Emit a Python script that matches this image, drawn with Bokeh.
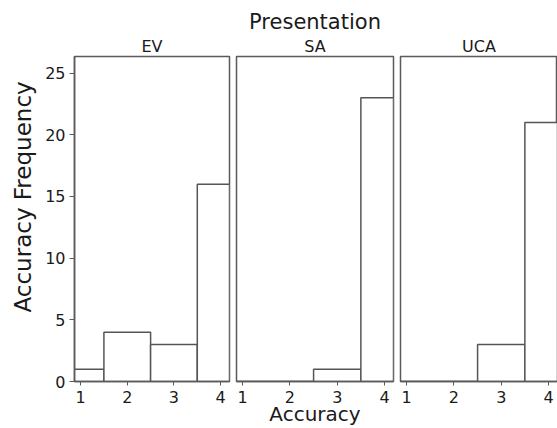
from bokeh.plotting import figure
from bokeh.layouts import row
from bokeh.models import Title, FixedTicker, Range1d, ColumnDataSource
from bokeh.embed import file_html
from bokeh.resources import INLINE

# ---- data ----
panels = ["EV", "SA", "UCA"]
accuracy = [1, 2, 3, 4]
ev_freq = [1, 4, 3, 16]
sa_freq = [0, 0, 1, 23]
uca_freq = [0, 0, 3, 21]
y_ticks = [0, 5, 10, 15, 20, 25]
x_ticks = [1, 2, 3, 4]
x_limits = (0.87, 4.19)
y_limits = (0, 26.35)

FONT = "DejaVu Sans"
TEXT = "#1a1a1a"
FRAME = "#5a5a5a"
BAR_LINE = "#555555"

series = [ev_freq, sa_freq, uca_freq]
widths = [231, 164, 162]
borders_left = [72, 5, 5]
borders_right = [2, 2, 0]


def style_title(t, size):
    t.text_font = FONT
    t.text_font_size = size
    t.text_font_style = "normal"
    t.text_color = TEXT
    t.align = "center"
    t.standoff = 2


figs = []
for i, (name, freq) in enumerate(zip(panels, series)):
    p = figure(
        width=widths[i], height=428,
        x_range=Range1d(*x_limits), y_range=Range1d(*y_limits),
        output_backend="svg", toolbar_location=None,
        y_axis_location="left" if i == 0 else None,
        min_border_left=borders_left[i], min_border_right=borders_right[i],
        min_border_top=56, min_border_bottom=47,
        title=("Presentation" if i == 1 else name),
    )
    src = ColumnDataSource(dict(x=accuracy, top=freq))
    p.vbar(x="x", top="top", width=1, bottom=0, source=src,
           fill_color="white", line_color=BAR_LINE, line_width=1.5)

    if i == 1:
        style_title(p.title, "21px")
        p.title.standoff = 0
        p.add_layout(Title(text=name), "above")
        style_title(p.above[-1], "16px")
    else:
        style_title(p.title, "16px")

    p.xgrid.visible = False
    p.ygrid.visible = False
    p.outline_line_color = FRAME
    p.outline_line_width = 1.5
    p.background_fill_color = "white"
    p.border_fill_color = "white"

    xa = p.xaxis[0]
    xa.ticker = FixedTicker(ticks=x_ticks)
    xa.major_tick_out = 4
    xa.major_tick_in = 0
    xa.minor_tick_line_color = None
    xa.axis_line_color = FRAME
    xa.axis_line_width = 1.5
    xa.major_tick_line_color = FRAME
    xa.major_label_text_font = FONT
    xa.major_label_text_font_size = "16px"
    xa.major_label_text_color = TEXT
    xa.major_label_standoff = 5

    if i == 0:
        ya = p.yaxis[0]
        ya.ticker = FixedTicker(ticks=y_ticks)
        ya.major_tick_out = 5
        ya.major_tick_in = 0
        ya.minor_tick_line_color = None
        ya.axis_line_color = FRAME
        ya.axis_line_width = 1.5
        ya.major_tick_line_color = FRAME
        ya.major_label_text_font = FONT
        ya.major_label_text_font_size = "16px"
        ya.major_label_text_color = TEXT
        ya.major_label_standoff = 4
        p.add_layout(Title(text="Accuracy Frequency", align="left", offset=69,
                           text_font=FONT, text_font_size="23px",
                           text_font_style="normal", text_color=TEXT,
                           standoff=14), "left")
    if i == 1:
        xa.axis_label = "Accuracy"
        xa.axis_label_text_font = FONT
        xa.axis_label_text_font_size = "20px"
        xa.axis_label_text_font_style = "normal"
        xa.axis_label_text_color = TEXT
        xa.axis_label_standoff = -4
    figs.append(p)

layout = row(*figs, spacing=0)
open("out.html", "w").write(file_html(layout, INLINE))
